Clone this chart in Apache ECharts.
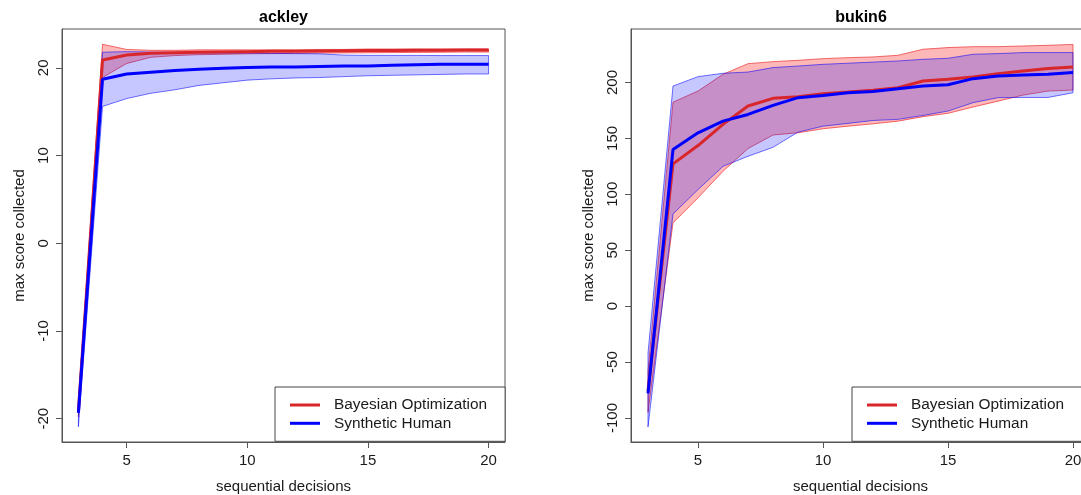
<!DOCTYPE html>
<html>
<head>
<meta charset="utf-8">
<script src="https://cdn.jsdelivr.net/npm/echarts@6/dist/echarts.min.js"></script>
<style>
html,body{margin:0;padding:0;background:#fff;}
#chart{width:1081px;height:495px;}
</style>
</head>
<body>
<div id="chart"></div>
<script>
// ---------- data ----------
const decisions = [3,4,5,6,7,8,9,10,11,12,13,14,15,16,17,18,19,20];

// ackley panel
const ackleyBoMean  = [-19.1, 20.9, 21.47, 21.66, 21.72, 21.78, 21.82, 21.85, 21.88, 21.9, 21.93, 21.95, 21.97, 21.98, 22.0, 22.02, 22.03, 22.04];
const ackleyBoUpper = [-18.3, 22.69, 22.1, 22.0, 22.0, 22.05, 22.05, 22.05, 22.05, 22.05, 22.1, 22.1, 22.15, 22.15, 22.15, 22.15, 22.15, 22.15];
const ackleyBoLower = [-19.8, 18.9, 20.5, 21.2, 21.4, 21.5, 21.55, 21.6, 21.62, 21.65, 21.68, 21.7, 21.72, 21.74, 21.76, 21.78, 21.8, 21.8];
const ackleyShMean  = [-19.35, 18.7, 19.3, 19.5, 19.7, 19.85, 19.95, 20.05, 20.1, 20.1, 20.15, 20.2, 20.2, 20.3, 20.35, 20.4, 20.4, 20.4];
const ackleyShUpper = [-18.0, 21.78, 21.85, 21.8, 21.75, 21.72, 21.7, 21.7, 21.65, 21.62, 21.6, 21.45, 21.42, 21.42, 21.42, 21.4, 21.4, 21.4];
const ackleyShLower = [-20.92, 15.6, 16.5, 17.1, 17.5, 18.0, 18.3, 18.6, 18.75, 18.85, 18.9, 19.0, 19.1, 19.15, 19.2, 19.25, 19.3, 19.3];

// bukin6 panel
const bukinBoMean  = [-76, 127.2, 143.6, 162.5, 178.9, 185.8, 187.3, 190, 191.4, 193, 195.3, 201.3, 202.8, 204.8, 207.9, 210.2, 212.4, 213.8];
const bukinBoUpper = [-58, 182.4, 192.3, 207.3, 216.8, 218.6, 219.8, 221.3, 222.2, 222.8, 224.3, 229.7, 231.2, 232, 232, 232.6, 233.2, 234];
const bukinBoLower = [-95, 74.4, 96.8, 120.6, 140.9, 153, 155, 158.6, 160.9, 163, 165.4, 169.4, 172.4, 178, 183.3, 188.7, 192.3, 193.2];
const bukinShMean  = [-78, 140, 155, 165.4, 171.4, 179.5, 186.4, 188.4, 190.8, 192, 194.4, 196.8, 198, 203.4, 205.8, 206.7, 207.3, 208.8];
const bukinShUpper = [-42, 196.8, 205.2, 208.2, 209.3, 213.3, 214.7, 216.2, 217.2, 218.2, 219.2, 220.7, 221.6, 225.2, 225.8, 226.7, 226.7, 226.7];
const bukinShLower = [-108, 82.4, 104.2, 125, 134, 142, 155.6, 160.9, 163.4, 166, 167, 170.5, 174.4, 181.9, 186.4, 186.6, 186.6, 190.8];

// axes
const xTicks = [5, 10, 15, 20];
const xRange = [2.32, 20.68];
const ackleyYTicks = [-20, -10, 0, 10, 20];
const ackleyYRange = [-22.66, 24.43];
const bukinYTicks = [-100, -50, 0, 50, 100, 150, 200];
const bukinYRange = [-121.5, 247.8];

const panelTitles = ['ackley', 'bukin6'];
const seriesNames = ['Bayesian Optimization', 'Synthetic Human'];
const xAxisTitle = 'sequential decisions';
const yAxisTitle = 'max score collected';

// ---------- styles ----------
const FONT = 'Liberation Sans, Arial, Helvetica, sans-serif';
const RED = '#d8262b';
const BLUE = '#0000ff';
const RED_FILL = 'rgba(255,0,0,0.28)';
const RED_EDGE = 'rgba(230,0,0,0.55)';
const BLUE_FILL = 'rgba(0,0,255,0.22)';
const BLUE_EDGE = 'rgba(0,0,255,0.55)';
const AXIS_COL = '#555';
const TEXT_COL = '#1a1a1a';

const grids = [
  {left: 62, top: 29, width: 443, height: 413},
  {left: 631, top: 29, width: 459, height: 413}
];

function xAxisDef(gi) {
  return {
    gridIndex: gi, type: 'value', min: xRange[0], max: xRange[1],
    axisLine: {show: true, onZero: false, lineStyle: {color: AXIS_COL, width: 1}},
    axisTick: {show: true, inside: false, length: 6, customValues: xTicks, lineStyle: {color: AXIS_COL}},
    axisLabel: {show: true, customValues: xTicks, margin: 11, fontSize: 15, color: TEXT_COL, fontFamily: FONT},
    splitLine: {show: false},
    name: xAxisTitle, nameLocation: 'middle', nameGap: 37,
    nameTextStyle: {fontSize: 15, color: TEXT_COL, fontFamily: FONT}
  };
}
function yAxisDef(gi, range, ticks) {
  return {
    gridIndex: gi, type: 'value', min: range[0], max: range[1],
    axisLine: {show: true, onZero: false, lineStyle: {color: AXIS_COL, width: 1}},
    axisTick: {show: true, inside: false, length: 6, customValues: ticks, lineStyle: {color: AXIS_COL}},
    axisLabel: {show: true, customValues: ticks, rotate: 90, margin: 11, fontSize: 15, color: TEXT_COL, fontFamily: FONT},
    splitLine: {show: false},
    name: yAxisTitle, nameLocation: 'middle', nameGap: 35,
    nameTextStyle: {fontSize: 15, color: TEXT_COL, fontFamily: FONT}
  };
}

function band(gi, upper, lower, fill, edge) {
  return {
    type: 'custom', xAxisIndex: gi, yAxisIndex: gi, silent: true, z: 2,
    data: decisions.map((x, i) => [x, lower[i], upper[i]]),
    encode: {x: 0, y: [1, 2]},
    renderItem: function (params, api) {
      if (params.dataIndex !== 0) return null;
      const top = decisions.map((x, i) => api.coord([x, upper[i]]));
      const bot = decisions.map((x, i) => api.coord([x, lower[i]])).reverse();
      return {
        type: 'polygon',
        shape: {points: top.concat(bot)},
        style: {fill: fill, stroke: edge, lineWidth: 1}
      };
    }
  };
}
function meanLine(gi, name, vals, color) {
  return {
    type: 'line', name: name, xAxisIndex: gi, yAxisIndex: gi, z: 3,
    data: decisions.map((x, i) => [x, vals[i]]),
    showSymbol: false, symbol: 'none',
    lineStyle: {color: color, width: 3},
    itemStyle: {color: color}
  };
}
function legendDef(left) {
  return {
    left: left, top: 387, orient: 'vertical',
    padding: [9, 18, 9, 15], itemGap: 0.3, itemWidth: 30, itemHeight: 3,
    borderColor: '#444', borderWidth: 1, backgroundColor: '#fff',
    selectedMode: false,
    textStyle: {fontSize: 15.4, color: TEXT_COL, fontFamily: FONT, lineHeight: 18, padding: [0, 0, 0, 9]},
    data: [
      {name: seriesNames[0], icon: 'rect', itemStyle: {color: RED}},
      {name: seriesNames[1], icon: 'rect', itemStyle: {color: BLUE}}
    ]
  };
}

const option = {
  animation: false,
  backgroundColor: '#fff',
  textStyle: {fontFamily: FONT},
  title: [
    {text: panelTitles[0], left: 283.5, top: 10, padding: 0, textAlign: 'center',
     textStyle: {fontSize: 16, fontWeight: 'bold', color: '#000', fontFamily: FONT}},
    {text: panelTitles[1], left: 861, top: 10, padding: 0, textAlign: 'center',
     textStyle: {fontSize: 16, fontWeight: 'bold', color: '#000', fontFamily: FONT}}
  ],
  grid: grids.map(g => Object.assign({show: true, borderColor: AXIS_COL, borderWidth: 1,
    backgroundColor: 'transparent', containLabel: false, outerBoundsMode: 'none'}, g)),
  xAxis: [xAxisDef(0), xAxisDef(1)],
  yAxis: [yAxisDef(0, ackleyYRange, ackleyYTicks), yAxisDef(1, bukinYRange, bukinYTicks)],
  legend: [legendDef(275), legendDef(852)],
  series: [
    band(0, ackleyBoUpper, ackleyBoLower, RED_FILL, RED_EDGE),
    band(0, ackleyShUpper, ackleyShLower, BLUE_FILL, BLUE_EDGE),
    meanLine(0, seriesNames[0], ackleyBoMean, RED),
    meanLine(0, seriesNames[1], ackleyShMean, BLUE),
    band(1, bukinBoUpper, bukinBoLower, RED_FILL, RED_EDGE),
    band(1, bukinShUpper, bukinShLower, BLUE_FILL, BLUE_EDGE),
    meanLine(1, seriesNames[0], bukinBoMean, RED),
    meanLine(1, seriesNames[1], bukinShMean, BLUE)
  ]
};

const chart = echarts.init(document.getElementById('chart'), null, {renderer: 'canvas'});
chart.setOption(option);
</script>
</body>
</html>
